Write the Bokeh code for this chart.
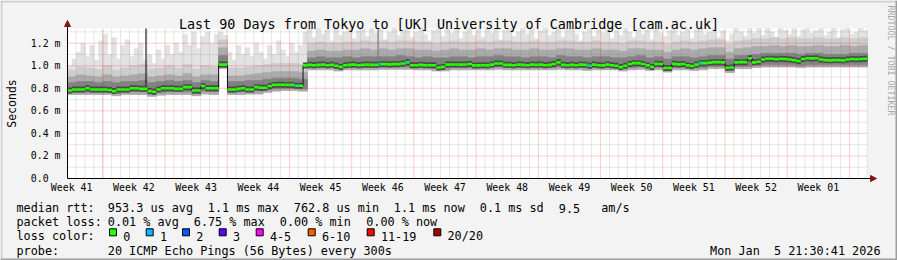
import numpy as np
from math import pi
from bokeh.plotting import figure
from bokeh.models import FixedTicker, Label, BoxAnnotation, Arrow, NormalHead, Range1d
from bokeh.embed import file_html
from bokeh.resources import INLINE

# ---------------- data ----------------
title_text = "Last 90 Days from Tokyo to [UK] University of Cambridge [cam.ac.uk]"
week_labels = ["Week 41", "Week 42", "Week 43", "Week 44", "Week 45", "Week 46", "Week 47",
               "Week 48", "Week 49", "Week 50", "Week 51", "Week 52", "Week 01"]
week_mid_days = [0.47, 7.47, 14.47, 21.47, 28.47, 35.47, 42.47, 49.47, 56.47, 63.47, 70.47, 77.47, 84.47]
week_start_days = [3.97, 10.97, 17.97, 24.97, 31.97, 38.97, 45.97, 52.97, 59.97, 66.97, 73.97, 80.97, 87.97]
y_ticks = [0, 0.2, 0.4, 0.6, 0.8, 1.0, 1.2]
y_tick_labels = ["0.0\u00a0\u00a0", "0.2 m", "0.4 m", "0.6 m", "0.8 m", "1.0 m", "1.2 m"]
y_minor = [0.1, 0.3, 0.5, 0.7, 0.9, 1.1, 1.3]

# median rtt (ms), one value per half day
median_ms = [
    0.78, 0.79, 0.79, 0.79, 0.80, 0.79, 0.79, 0.79, 0.79, 0.785,
    0.775, 0.79, 0.79, 0.79, 0.80, 0.80, 0.795, 0.795, 0.775, 0.77,
    0.79, 0.80, 0.80, 0.80, 0.795, 0.795, 0.81, 0.81, 0.78, 0.78,
    0.82, 0.80, 0.80, 0.80, 1.01, 1.01, 0.79, 0.79, 0.795, 0.80,
    0.79, 0.79, 0.81, 0.805, 0.805, 0.82, 0.83, 0.832, 0.832, 0.83,
    0.83, 0.823, 0.823, 1.003, 1.008, 1.005, 1.008, 1.01, 1.005, 1.008,
    1.0, 0.99, 1.005, 1.008, 1.01, 1.005, 1.008, 1.01, 1.008, 1.008,
    1.014, 1.014, 1.012, 1.014, 1.014, 1.02, 1.03, 1.005, 1.005, 1.008,
    1.005, 1.005, 1.005, 0.985, 0.99, 1.01, 1.011, 1.011, 1.01, 1.011,
    1.015, 1.003, 1.003, 1.005, 1.003, 1.01, 1.02, 1.02, 1.008, 1.008,
    1.005, 1.01, 1.008, 1.005, 1.01, 1.008, 1.01, 1.005, 1.008, 1.015,
    1.03, 1.008, 1.005, 1.008, 1.005, 1.01, 1.008, 1.0, 1.01, 1.005,
    1.003, 1.01, 1.005, 1.0, 0.988, 1.0, 1.015, 1.023, 1.023, 1.015,
    1.003, 0.99, 1.017, 1.015, 0.98, 0.98, 1.017, 1.012, 1.015, 1.003,
    0.998, 1.01, 1.023, 1.023, 1.028, 1.032, 1.032, 1.03, 0.982, 0.985,
    1.03, 1.032, 1.032, 1.067, 1.03, 1.035, 1.055, 1.062, 1.062, 1.058,
    1.062, 1.06, 1.055, 1.05, 1.042, 1.06, 1.067, 1.065, 1.067, 1.055,
    1.05, 1.048, 1.05, 1.05, 1.048, 1.055, 1.06, 1.058, 1.06, 1.062,
]

# highest (lightest) smoke per half day
smoke_top_ms = [
    1.00, 1.06, 1.12, 1.20, 1.08, 1.18, 1.05, 1.22, 1.28, 1.10,
    1.25, 1.06, 1.18, 1.23, 1.08, 1.15, 1.20, 1.05, 1.10, 1.02,
    1.14, 1.06, 1.18, 1.10, 1.20, 1.12, 1.28, 1.18, 1.30, 1.15,
    1.26, 1.30, 1.20, 1.28, 1.30, 1.27, 1.12, 1.05, 1.18, 1.10,
    1.16, 1.08, 1.20, 1.12, 1.06, 1.18, 1.10, 1.22, 1.14, 1.08,
    1.20, 1.12, 1.18, 1.30, 1.34, 1.25, 1.34, 1.28, 1.32, 1.22,
    1.34, 1.27, 1.30, 1.34, 1.24, 1.31, 1.34, 1.26, 1.33, 1.29,
    1.34, 1.23, 1.30, 1.34, 1.27, 1.32, 1.34, 1.25, 1.30, 1.34,
    1.28, 1.22, 1.31, 1.34, 1.26, 1.33, 1.29, 1.34, 1.24, 1.30,
    1.34, 1.27, 1.32, 1.25, 1.34, 1.29, 1.34, 1.23, 1.31, 1.34,
    1.26, 1.30, 1.34, 1.28, 1.33, 1.24, 1.31, 1.34, 1.27, 1.30,
    1.34, 1.25, 1.32, 1.34, 1.28, 1.22, 1.30, 1.34, 1.26, 1.33,
    1.29, 1.34, 1.24, 1.31, 1.27, 1.34, 1.30, 1.25, 1.34, 1.28,
    1.32, 1.23, 1.34, 1.29, 1.26, 1.31, 1.34, 1.27, 1.30, 1.34,
    1.24, 1.32, 1.34, 1.28, 1.30, 1.34, 1.25, 1.31, 1.22, 1.28,
    1.34, 1.30, 1.26, 1.34, 1.29, 1.33, 1.27, 1.34, 1.30, 1.25,
    1.34, 1.31, 1.28, 1.34, 1.26, 1.32, 1.34, 1.29, 1.31, 1.34,
    1.27, 1.30, 1.34, 1.25, 1.32, 1.34, 1.28, 1.30, 1.34, 1.31,
]

# daily smoke envelopes (ms)
smoke_low_ms = [
    0.745, 0.745, 0.745, 0.745, 0.745, 0.735, 0.745, 0.745, 0.745, 0.73,
    0.74, 0.745, 0.745, 0.745, 0.735, 0.75, 0.745, 0.975, 0.745, 0.745,
    0.75, 0.75, 0.765, 0.775, 0.78, 0.78, 0.775, 0.965, 0.965, 0.965,
    0.955, 0.965, 0.965, 0.965, 0.965, 0.97, 0.97, 0.97, 0.97, 0.965,
    0.965, 0.955, 0.955, 0.965, 0.965, 0.965, 0.965, 0.965, 0.97, 0.965,
    0.965, 0.965, 0.965, 0.965, 0.965, 0.97, 0.965, 0.965, 0.96, 0.965,
    0.965, 0.965, 0.955, 0.965, 0.97, 0.96, 0.965, 0.945, 0.965, 0.965,
    0.96, 0.965, 0.975, 0.975, 0.94, 0.975, 0.975, 0.985, 0.99, 0.99,
    0.99, 0.99, 0.985, 0.99, 0.99, 0.99, 0.99, 0.99, 0.99, 0.99,
]
smoke_dark_low_ms = [
    0.765, 0.765, 0.765, 0.765, 0.765, 0.755, 0.765, 0.77, 0.77, 0.75,
    0.765, 0.77, 0.77, 0.77, 0.755, 0.775, 0.77, 0.99, 0.765, 0.77,
    0.77, 0.775, 0.785, 0.795, 0.80, 0.80, 0.795, 0.98, 0.985, 0.985,
    0.975, 0.985, 0.985, 0.985, 0.985, 0.99, 0.99, 0.99, 0.99, 0.985,
    0.985, 0.975, 0.975, 0.985, 0.985, 0.985, 0.985, 0.985, 0.99, 0.985,
    0.985, 0.985, 0.985, 0.985, 0.985, 0.99, 0.985, 0.985, 0.98, 0.985,
    0.985, 0.985, 0.975, 0.985, 0.99, 0.98, 0.985, 0.965, 0.985, 0.985,
    0.98, 0.985, 0.995, 0.995, 0.96, 0.995, 0.995, 1.005, 1.01, 1.01,
    1.01, 1.01, 1.005, 1.01, 1.01, 1.01, 1.01, 1.01, 1.01, 1.01,
]
smoke_dark_high_ms = [
    0.85, 0.86, 0.86, 0.85, 0.86, 0.85, 0.86, 0.86, 0.87, 0.85,
    0.86, 0.87, 0.86, 0.87, 0.85, 0.87, 0.86, 1.09, 0.86, 0.86,
    0.87, 0.87, 0.88, 0.89, 0.89, 0.89, 0.88, 1.07, 1.08, 1.07,
    1.07, 1.08, 1.07, 1.08, 1.08, 1.08, 1.08, 1.09, 1.08, 1.07,
    1.08, 1.07, 1.07, 1.08, 1.08, 1.07, 1.08, 1.08, 1.09, 1.08,
    1.08, 1.07, 1.08, 1.08, 1.07, 1.09, 1.08, 1.08, 1.07, 1.08,
    1.08, 1.07, 1.07, 1.08, 1.09, 1.07, 1.08, 1.06, 1.08, 1.08,
    1.07, 1.08, 1.09, 1.09, 1.06, 1.09, 1.09, 1.10, 1.11, 1.11,
    1.11, 1.11, 1.10, 1.11, 1.11, 1.10, 1.10, 1.10, 1.11, 1.11,
]
smoke_mid_high_ms = [
    0.90, 0.92, 0.91, 0.90, 0.92, 0.90, 0.91, 0.92, 0.93, 0.90,
    0.91, 0.92, 0.91, 0.93, 0.90, 0.92, 0.92, 1.16, 0.91, 0.91,
    0.92, 0.93, 0.94, 0.95, 0.95, 0.95, 0.94, 1.13, 1.14, 1.13,
    1.13, 1.14, 1.14, 1.15, 1.14, 1.15, 1.14, 1.15, 1.15, 1.14,
    1.14, 1.13, 1.14, 1.15, 1.14, 1.14, 1.15, 1.14, 1.15, 1.15,
    1.14, 1.14, 1.15, 1.14, 1.14, 1.15, 1.15, 1.14, 1.14, 1.15,
    1.14, 1.14, 1.13, 1.15, 1.15, 1.14, 1.14, 1.12, 1.14, 1.15,
    1.14, 1.15, 1.16, 1.16, 1.12, 1.15, 1.16, 1.17, 1.17, 1.18,
    1.17, 1.18, 1.17, 1.17, 1.18, 1.17, 1.17, 1.18, 1.17, 1.18,
]
smoke_light_high_ms = [
    0.96, 0.99, 0.98, 0.97, 1.00, 0.96, 0.98, 1.00, 1.01, 0.97,
    0.98, 1.00, 0.98, 1.01, 0.97, 1.00, 0.99, 1.23, 0.98, 0.98,
    0.99, 1.00, 1.01, 1.02, 1.02, 1.02, 1.01, 1.20, 1.21, 1.20,
    1.20, 1.21, 1.21, 1.22, 1.21, 1.22, 1.21, 1.22, 1.22, 1.21,
    1.21, 1.20, 1.21, 1.22, 1.21, 1.21, 1.22, 1.21, 1.22, 1.22,
    1.21, 1.21, 1.22, 1.21, 1.21, 1.22, 1.22, 1.21, 1.21, 1.22,
    1.21, 1.21, 1.20, 1.22, 1.22, 1.21, 1.21, 1.19, 1.21, 1.22,
    1.21, 1.22, 1.23, 1.23, 1.19, 1.22, 1.23, 1.24, 1.24, 1.25,
    1.24, 1.25, 1.24, 1.24, 1.25, 1.24, 1.24, 1.25, 1.24, 1.25,
]

# isolated single-sample outliers (day, top in ms)
outlier_days = [8.83, 34.94]
outlier_top_ms = [1.34, 1.34]
# samples with 1/20 loss (day)
loss1_days = [25.5, 35.0, 38.0, 58.6, 71.1]

stats_row1 = [("median rtt:", 16), ("953.3 us avg", 107.3), ("1.1 ms max", 207.3),
              ("762.8 us min", 293.3), ("1.1 ms now", 393.3), ("0.1 ms sd", 479.3),
              ("9.5", 558.3), ("am/s", 600.7)]
stats_row2 = [("packet loss:", 16), ("0.01 % avg", 107.3), ("6.75 % max", 193.3),
              ("0.00 % min", 279.3), ("0.00 % now", 365.7)]
loss_labels = ["0", "1", "2", "3", "4-5", "6-10", "11-19", "20/20"]
loss_colors = ["#26ff00", "#00b8ff", "#0059ff", "#5e00ff", "#ff00ff", "#ff5e00", "#ff0000", "#a10000"]
probe_text = "20 ICMP Echo Pings (56 Bytes) every 300s"
stamp_text = "Mon Jan  5 21:30:41 2026"

# ---------------- layout helpers ----------------
W, H = 897, 260
FL, FR, FT, FB = 67, 867, 28, 178   # plot area in canvas pixels
X_END = 90.0
Y_END = 1.3304
MONO = "DejaVu Sans Mono"


def X(px):
    return (px - FL) / (FR - FL) * X_END


def Y(py):
    return (FB - py) / (FB - FT) * Y_END


def nb(s):
    return s.replace(" ", "\u00a0")


p = figure(width=W, height=H, output_backend="svg", toolbar_location=None,
           x_range=Range1d(X(0), X(W)), y_range=Range1d(Y(H), Y(0)),
           min_border=0, min_border_left=0, min_border_right=0,
           min_border_top=0, min_border_bottom=0)
p.background_fill_color = "#f3f3f3"
p.border_fill_color = "#f3f3f3"
p.outline_line_color = None
p.xgrid.visible = False
p.ygrid.visible = False

# white canvas of the graph
p.quad(left=[0], right=[X_END], bottom=[0], top=[Y_END], fill_color="#ffffff", line_color=None)

med = np.array(median_ms)
half_l = np.arange(len(med)) * 0.5
half_r = half_l + 0.5
day_l = np.arange(len(smoke_low_ms)) * 1.0
day_r = day_l + 1.0
low_half = np.repeat(np.array(smoke_low_ms), 2)
top_half = np.minimum(np.array(smoke_top_ms), Y_END)

p.quad(left=half_l, right=half_r, bottom=low_half, top=top_half,
       fill_color="#e2e2e2", line_color="#e2e2e2", line_width=0.6)
p.quad(left=day_l, right=day_r, bottom=smoke_low_ms, top=smoke_light_high_ms,
       fill_color="#cdcdcd", line_color="#cdcdcd", line_width=0.6)
p.quad(left=day_l, right=day_r, bottom=smoke_low_ms, top=smoke_mid_high_ms,
       fill_color="#ababab", line_color="#ababab", line_width=0.6)
p.quad(left=day_l, right=day_r, bottom=smoke_dark_low_ms, top=smoke_dark_high_ms,
       fill_color="#828282", line_color="#828282", line_width=0.6)

# outliers
idx_out = [int(d * 2) for d in outlier_days]
p.segment(x0=outlier_days, x1=outlier_days, y0=[med[i] for i in idx_out],
          y1=[min(v, Y_END) for v in outlier_top_ms],
          line_color=["#202020", "#808080"], line_width=1.2)

# grid (dotted, drawn over the smoke)
minor_days = [0.97 + k for k in range(90)]
minor_days = [d for d in minor_days if d not in week_start_days]
p.segment(x0=minor_days, x1=minor_days, y0=0, y1=Y_END, line_color="#7f7f7f",
          line_alpha=0.38, line_dash="1 1", line_width=1)
p.segment(x0=0, x1=X_END, y0=y_minor, y1=y_minor, line_color="#7f7f7f",
          line_alpha=0.38, line_dash="1 1", line_width=1)
p.segment(x0=week_start_days, x1=week_start_days, y0=0, y1=Y_END, line_color="#ff0000",
          line_alpha=0.4, line_dash="1 1", line_width=1)
p.segment(x0=0, x1=X_END, y0=y_ticks[1:], y1=y_ticks[1:], line_color="#ff0000",
          line_alpha=0.4, line_dash="1 1", line_width=1)

# dark core around the median
p.segment(x0=half_l, x1=half_r, y0=med, y1=med, line_color="#4a4a4a", line_width=6, line_cap="butt")
# vertical transitions
p.step(x=np.append(half_l, X_END), y=np.append(med, med[-1]), mode="after",
       line_color="#111111", line_width=1)
# median coloured by loss
p.segment(x0=half_l, x1=half_r, y0=med, y1=med, line_color="#26ff00", line_width=2.6,
          line_cap="butt")
idx_l = [int(d * 2) for d in loss1_days]
p.segment(x0=loss1_days, x1=[d + 0.25 for d in loss1_days], y0=[med[i] for i in idx_l],
          y1=[med[i] for i in idx_l], line_color="#00b8ff", line_width=2.6, line_cap="butt")

# axes at fixed positions inside the canvas
p.xaxis.fixed_location = 0
p.yaxis.fixed_location = 0
p.xaxis.bounds = (0, X_END)
p.yaxis.bounds = (0, Y_END)
p.xaxis.ticker = FixedTicker(ticks=week_mid_days, minor_ticks=[])
p.xaxis.major_label_overrides = {d: l for d, l in zip(week_mid_days, week_labels)}
p.yaxis.ticker = FixedTicker(ticks=y_ticks, minor_ticks=[])
p.yaxis.major_label_overrides = {v: l for v, l in zip(y_ticks, y_tick_labels)}
for ax in (p.xaxis, p.yaxis):
    ax.axis_line_color = "#000000"
    ax.major_tick_line_color = None
    ax.minor_tick_line_color = None
    ax.major_tick_in = 0
    ax.major_tick_out = 0
    ax.major_label_text_font = MONO
    ax.major_label_text_font_size = "9.9px"
    ax.major_label_text_color = "#000000"
p.xaxis.major_label_standoff = 3
p.yaxis.major_label_standoff = 7

# arrows at axis ends
arrow_c = "#8b1414"
p.add_layout(Arrow(end=NormalHead(size=6, fill_color=arrow_c, line_color=arrow_c),
                   x_start=X(FR - 1), y_start=0, x_end=X(876), y_end=0,
                   line_color="#000000", line_width=1))
p.add_layout(Arrow(end=NormalHead(size=6, fill_color=arrow_c, line_color=arrow_c),
                   x_start=0, y_start=Y(FT + 1), x_end=0, y_end=Y(20),
                   line_color="#000000", line_width=1))


def txt(s, px, py, size="11.8px", align="left", baseline="alphabetic", angle=0.0, color="#000000"):
    p.add_layout(Label(x=X(px), y=Y(py), text=s, text_font=MONO, text_font_size=size,
                       text_align=align, text_baseline=baseline, angle=angle, text_color=color))


txt(title_text, 448.5, 24, size="13.4px", align="center")
txt("Seconds", 11, 103, size="11.5px", align="center", baseline="middle", angle=pi / 2)
txt(nb("RRDTOOL / TOBI OETIKER"), 890, 5, size="8.3px", align="left", baseline="middle",
    angle=-pi / 2, color="#a8a8a8")

rows_y = [207.5, 221.7, 235.8, 250.0]
for s, px in stats_row1:
    txt(nb(s), px, rows_y[0])
for s, px in stats_row2:
    txt(nb(s), px, rows_y[1])
txt(nb("loss color:"), 16, rows_y[2])
box_x = [109, 145.7, 182, 218.7, 255.7, 307.7, 366.7, 433.3]
for lab, col, bx in zip(loss_labels, loss_colors, box_x):
    p.add_layout(BoxAnnotation(left=X(bx), right=X(bx + 7), top=Y(228.3), bottom=Y(235.3),
                               fill_color=col, fill_alpha=1.0, line_color="#000000",
                               line_width=1, line_alpha=1.0))
    txt(lab, bx + 13.7, rows_y[2])
txt("probe:", 16, rows_y[3])
txt(nb(probe_text), 107.3, rows_y[3])
txt(nb(stamp_text), 880, rows_y[3], align="right")

# 3D frame of the image
for l, r, t, b, c in [(0, W, 0, 2, "#cfcfcf"), (0, 2, 0, H, "#cfcfcf"),
                      (0, W, H - 2, H, "#9e9e9e"), (W - 2, W, 0, H, "#9e9e9e")]:
    p.add_layout(BoxAnnotation(left=X(l), right=X(r), top=Y(t), bottom=Y(b),
                               fill_color=c, fill_alpha=1.0, line_color=None))

open("out.html", "w").write(file_html(p, INLINE))
